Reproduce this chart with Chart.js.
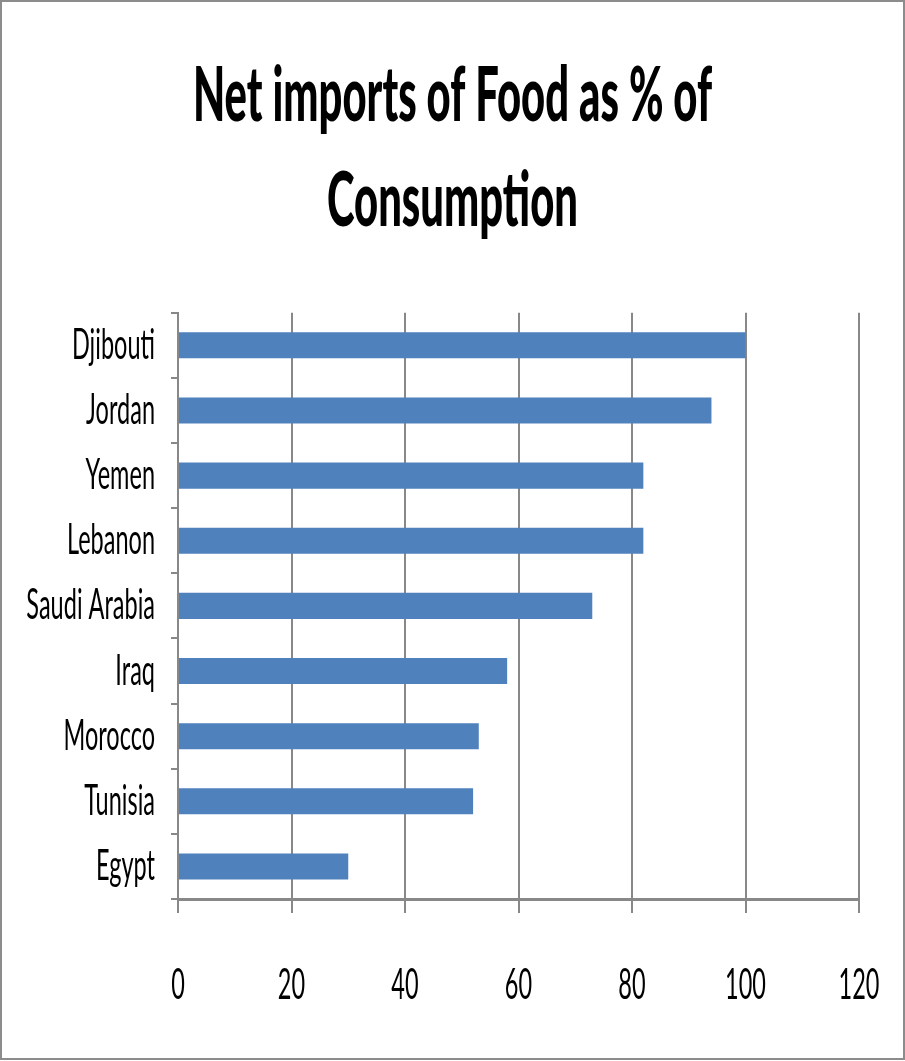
<!DOCTYPE html>
<html>
<head>
<meta charset="utf-8">
<script src="https://cdn.jsdelivr.net/npm/chart.js@4/dist/chart.umd.min.js"></script>
<style>
  html, body { margin: 0; padding: 0; background: #fff; }
  #wrap { width: 905px; height: 1061px; }
</style>
</head>
<body>
<div id="wrap"><canvas id="myChart" width="905" height="1061"></canvas></div>
<script>
const titleLines = ["Net imports of Food as % of", "Consumption"];
const countries = ["Djibouti", "Jordan", "Yemen", "Lebanon", "Saudi Arabia", "Iraq", "Morocco", "Tunisia", "Egypt"];
const importShare = [100, 94, 82, 82, 73, 58, 53, 52, 30];
const xTicks = [0, 20, 40, 60, 80, 100, 120];

const GRID = "#888888";
const BAR = "#4F81BD";

// the original text is strongly condensed, so squeeze it sideways
const TITLE_SQUEEZE = 0.55;
const LABEL_SQUEEZE = 0.56;

const canvas = document.getElementById("myChart");
const ctx = canvas.getContext("2d");
const rawFillText = ctx.fillText.bind(ctx);
ctx.fillText = function (text, x, y) {
  const sx = /bold|[6-9]00/.test(this.font) ? TITLE_SQUEEZE : LABEL_SQUEEZE;
  this.save();
  this.translate(x, y);
  this.scale(sx, 1);
  rawFillText(text, 0, 0);
  this.restore();
};

const frame = {
  id: "frame",
  afterDraw(chart) {
    const c = chart.ctx;
    c.save();
    c.strokeStyle = "#8c8c8c";
    c.lineWidth = 2;
    c.strokeRect(1, 1, chart.width - 2, chart.height - 3);
    c.restore();
  }
};

new Chart(ctx, {
  type: "bar",
  plugins: [frame],
  data: {
    labels: countries,
    datasets: [{
      data: importShare,
      backgroundColor: BAR,
      borderWidth: 0,
      barPercentage: 0.4,
      categoryPercentage: 1
    }]
  },
  options: {
    indexAxis: "y",
    responsive: false,
    animation: false,
    layout: { padding: 0 },
    plugins: {
      legend: { display: false },
      tooltip: { enabled: false },
      title: {
        display: true,
        text: titleLines,
        color: "#000",
        font: { family: "Lato", size: 76, weight: 900, lineHeight: 1.38 },
        padding: { top: 44, bottom: 59 }
      }
    },
    scales: {
      x: {
        min: 0,
        max: 120,
        afterBuildTicks: (scale) => { scale.ticks = xTicks.map(v => ({ value: v })); },
        afterFit: (scale) => {
          scale.height = 162;
          scale.paddingLeft = 0;
          scale.paddingRight = 46;
        },
        grid: { color: GRID, lineWidth: 2, tickLength: 14, drawOnChartArea: true },
        border: { color: GRID, width: 3 },
        ticks: {
          color: "#000",
          padding: 47,
          maxRotation: 0,
          font: { family: "Lato", size: 42 }
        }
      },
      y: {
        afterFit: (scale) => {
          scale.width = 178;
          scale.paddingTop = 0;
          scale.paddingBottom = 0;
        },
        grid: { color: GRID, lineWidth: 2, tickLength: 7, drawOnChartArea: false, offset: true },
        border: { color: GRID, width: 2 },
        ticks: {
          color: "#000",
          padding: 16,
          font: { family: "Lato", size: 42 }
        }
      }
    }
  }
});
</script>
</body>
</html>
